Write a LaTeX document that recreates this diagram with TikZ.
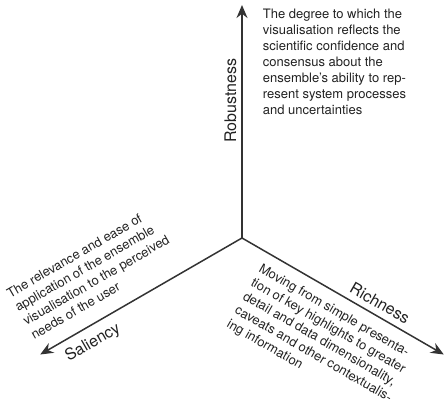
\documentclass[tikz,border=0pt]{standalone}
\usepackage{fontspec}
\setmainfont{TeX Gyre Heros}
\usepackage{xcolor}
\usepackage{tikz}
\usetikzlibrary{calc,positioning,arrows.meta}
\definecolor{axisgray}{HTML}{333333}
\definecolor{textgray}{HTML}{222222}
\tikzset{
    >={Stealth[length=13pt,width=11pt]},
    axis/.style={
        draw=axisgray,
        line width=1.5pt,
        line cap=round,
        ->
    },
    axislabel/.style={
        inner sep=0pt,
        text=textgray,
        font={\fontsize{16pt}{19}\selectfont}
    },
    axistext/.style={
        inner sep=0pt,
        align=left,
        text=textgray,
        font={\fontsize{13pt}{16}\selectfont}
    },
}
\begin{document}
\begin{tikzpicture}
[
    x=1pt, y=1pt,
]
\useasboundingbox (0,0) rectangle (447,414);
\coordinate(O) at (242, 176);
\coordinate(Rob) at ($(O)+(90:233)$);
\coordinate(Ric) at ($(O)+(-30:233)$);
\coordinate(Sal) at ($(O)+(210:233)$);
\draw[axis] (O) to (Rob);
\draw[axis] (O) to (Ric);
\draw[axis] (O) to (Sal);
% axis names
\node(RobLabel)[axislabel, rotate=90] at ($(O)+(90:137.5)+(180:11.5)$){Robustness};
\node(RicLabel)[axislabel, rotate=-30] at ($(O)+(-30:152)+(60:12.7)$){Richness};
\node(SalLabel)[axislabel, rotate=30] at ($(O)+(210:181.5)+(-60:16.4)$){Saliency};
% descriptions
\node(RobText)[axistext, anchor=north west] at (262.7, 405.5){The degree to which the\\visualisation reflects the\\scientific confidence and\\consensus about the\\ensemble's ability to rep-\\resent system processes\\and uncertainties};
\node(RicText)[axistext, anchor=north west, rotate=-30] at (262.8, 151.2){Moving from simple presenta-\\tion of key highlights to greater\\detail and data dimensionality,\\caveats and other contextualis-\\ing information};
\node(SalText)[axistext, anchor=north west, rotate=30] at (5.25, 124.2){The relevance and ease of\\application of the ensemble\\visualisation to the perceived\\needs of the user};
\end{tikzpicture}
\end{document}
